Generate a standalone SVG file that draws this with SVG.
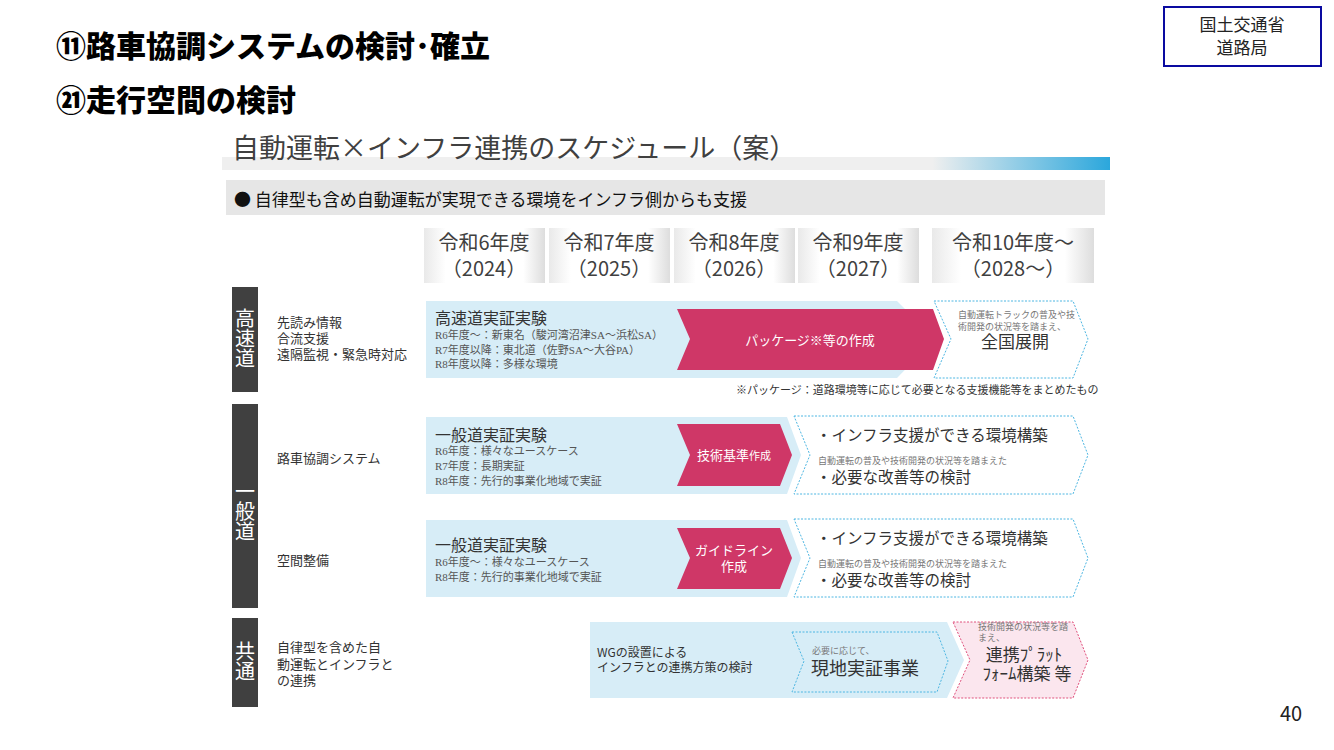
<svg xmlns="http://www.w3.org/2000/svg" width="1334" height="750" viewBox="0 0 1334 750">
<defs>
<linearGradient id="bar" x1="0" y1="0" x2="1" y2="0">
<stop offset="0" stop-color="#efefef"/>
<stop offset="0.8" stop-color="#efefef"/>
<stop offset="1" stop-color="#2ba7dc"/>
</linearGradient>
<linearGradient id="yr" x1="0" y1="0" x2="1" y2="0">
<stop offset="0" stop-color="#e9e9e9"/>
<stop offset="0.18" stop-color="#ffffff"/>
<stop offset="0.82" stop-color="#ffffff"/>
<stop offset="1" stop-color="#dddddd"/>
</linearGradient>
</defs>
<style>
text{font-family:"Noto Sans CJK JP","Noto Sans",sans-serif;}
.title{font-size:30px;font-weight:900;fill:#000;}
.yr{font-size:20px;fill:#404040;text-anchor:middle;}
.cat{fill:#404040;}
.catt{font-size:20px;fill:#fff;writing-mode:vertical-rl;}
.lbl{font-size:13px;fill:#333;}
.blue{fill:#d7edf7;}
.pink{fill:#cf3767;}
.btitle{font-size:16px;fill:#333;}
.sub{font-family:"Liberation Serif","Noto Sans CJK JP",serif;font-size:11px;fill:#555;}
.pt{font-size:13px;fill:#fff;text-anchor:middle;}
.dash{fill:#fff;stroke:#4db6e2;stroke-width:1;stroke-dasharray:2 1.5;}
.dashp{fill:#fbe6ee;stroke:#e0507c;stroke-width:1;stroke-dasharray:2 1.5;}
.big{font-size:15.5px;fill:#333;}
.tiny{font-family:"Liberation Serif","Noto Sans CJK JP",serif;font-size:9px;fill:#777;}
</style>
<rect width="1334" height="750" fill="#fff"/>

<g id="header">
<text class="title" x="56" y="57">⑪路車協調システムの検討･確立</text>
<text class="title" x="56" y="111">㉑走行空間の検討</text>
</g>

<g id="agency">
<rect x="1164" y="7" width="157" height="59" fill="#fff" stroke="#0a0aa0" stroke-width="2"/>
<text x="1242" y="31" font-size="17" fill="#222" text-anchor="middle">国土交通省</text>
<text x="1242" y="54" font-size="17" fill="#222" text-anchor="middle">道路局</text>
</g>

<g id="heading">
<rect x="222" y="157" width="888" height="13" fill="url(#bar)"/>
<text x="232" y="158" font-size="27" fill="#404040">自動運転×インフラ連携のスケジュール（案）</text>
<rect x="226" y="180" width="879" height="35" fill="#e6e6e6"/>
<text x="234" y="206" font-size="17" fill="#111">● 自律型も含め自動運転が実現できる環境をインフラ側からも支援</text>
</g>

<g id="years">
<rect x="424" y="228" width="121" height="55" fill="url(#yr)"/>
<rect x="549" y="228" width="121" height="55" fill="url(#yr)"/>
<rect x="674" y="228" width="121" height="55" fill="url(#yr)"/>
<rect x="798" y="228" width="121" height="55" fill="url(#yr)"/>
<rect x="932" y="228" width="162" height="55" fill="url(#yr)"/>
<text class="yr" x="484" y="250">令和6年度</text><text class="yr" x="484" y="276">（2024）</text>
<text class="yr" x="609" y="250">令和7年度</text><text class="yr" x="609" y="276">（2025）</text>
<text class="yr" x="734" y="250">令和8年度</text><text class="yr" x="734" y="276">（2026）</text>
<text class="yr" x="858" y="250">令和9年度</text><text class="yr" x="858" y="276">（2027）</text>
<text class="yr" x="1013" y="250">令和10年度～</text><text class="yr" x="1013" y="276">（2028～）</text>
</g>

<g id="cat-expressway">
<rect class="cat" x="232" y="287" width="26" height="105"/>
<text class="catt" x="245" y="308">高速道</text>
<text class="lbl" x="277" y="327">先読み情報</text>
<text class="lbl" x="277" y="343">合流支援</text>
<text class="lbl" x="277" y="359">遠隔監視・緊急時対応</text>
</g>

<g id="cat-general">
<rect class="cat" x="232" y="404" width="26" height="204"/>
<text class="catt" x="245" y="481">一般道</text>
<text class="lbl" x="277" y="463">路車協調システム</text>
<text class="lbl" x="277" y="565">空間整備</text>
</g>

<g id="cat-common">
<rect class="cat" x="232" y="618" width="26" height="89"/>
<text class="catt" x="245" y="641">共通</text>
<text class="lbl" x="277" y="652">自律型を含めた自</text>
<text class="lbl" x="277" y="669">動運転とインフラと</text>
<text class="lbl" x="277" y="685">の連携</text>
</g>

<g id="expressway-trial">
<polygon class="blue" points="426,301 897,301 935,339 897,378 426,378"/>
<text class="btitle" x="435" y="324">高速道実証実験</text>
<text class="sub" x="435" y="339">R6年度～：新東名（駿河湾沼津SA～浜松SA）</text>
<text class="sub" x="435" y="354">R7年度以降：東北道（佐野SA～大谷PA）</text>
<text class="sub" x="435" y="368">R8年度以降：多様な環境</text>
</g>
<g id="expressway-package">
<polygon class="pink" points="677,309 933,309 944,339 933,370 677,370 690,339"/>
<text class="pt" x="810" y="345">パッケージ※等の作成</text>
</g>
<g id="expressway-national">
<polygon class="dash" points="934,301 1073,301 1088,339 1073,378 934,378 951,339"/>
<text class="tiny" x="958" y="318">自動運転トラックの普及や技</text>
<text class="tiny" x="958" y="330">術開発の状況等を踏まえ、</text>
<text x="1015" y="348" font-size="17" fill="#333" text-anchor="middle">全国展開</text>
</g>
<text x="736" y="394" font-size="11" fill="#333">※パッケージ：道路環境等に応じて必要となる支援機能等をまとめたもの</text>

<g id="general-trial-1">
<polygon class="blue" points="426,417 787,417 801,455 787,494 426,494"/>
<text class="btitle" x="435" y="441">一般道実証実験</text>
<text class="sub" x="435" y="455">R6年度：様々なユースケース</text>
<text class="sub" x="435" y="470">R7年度：長期実証</text>
<text class="sub" x="435" y="485">R8年度：先行的事業化地域で実証</text>
</g>
<g id="general-standard">
<polygon class="pink" points="677,424 780,424 792,455 780,486 677,486 690,455"/>
<text class="pt" x="734" y="460">技術基準<tspan font-size="11">作成</tspan></text>
</g>
<g id="general-env-1">
<polygon class="dash" points="794,416 1073,416 1088,455 1073,494 794,494 810,455"/>
<text class="big" x="816" y="441">・インフラ支援ができる環境構築</text>
<text class="tiny" x="818" y="464">自動運転の普及や技術開発の状況等を踏まえた</text>
<text class="big" x="816" y="483">・必要な改善等の検討</text>
</g>

<g id="general-trial-2">
<polygon class="blue" points="426,520 787,520 801,558 787,597 426,597"/>
<text class="btitle" x="435" y="551">一般道実証実験</text>
<text class="sub" x="435" y="566">R6年度～：様々なユースケース</text>
<text class="sub" x="435" y="581">R8年度：先行的事業化地域で実証</text>
</g>
<g id="general-guideline">
<polygon class="pink" points="677,528 780,528 792,558 780,589 677,589 690,558"/>
<text class="pt" x="734" y="555" font-size="12">ガイドライン</text>
<text class="pt" x="734" y="571" font-size="11">作成</text>
</g>
<g id="general-env-2">
<polygon class="dash" points="794,519 1073,519 1088,558 1073,597 794,597 810,558"/>
<text class="big" x="816" y="544">・インフラ支援ができる環境構築</text>
<text class="tiny" x="818" y="567">自動運転の普及や技術開発の状況等を踏まえた</text>
<text class="big" x="816" y="586">・必要な改善等の検討</text>
</g>

<g id="common-wg">
<polygon class="blue" points="590,622 947,622 964,660 947,698 590,698"/>
<text x="597" y="657" font-size="12" fill="#333">WGの設置による</text>
<text x="597" y="672" font-size="12" fill="#333">インフラとの連携方策の検討</text>
</g>
<g id="common-field">
<polygon fill="none" stroke="#4db6e2" stroke-width="1" stroke-dasharray="2 1.5" points="792,632 937,632 948,661 937,692 792,692 804,661"/>
<text class="tiny" x="812" y="654">必要に応じて、</text>
<text x="811" y="675" font-size="18" fill="#333">現地実証事業</text>
</g>
<g id="common-platform">
<polygon class="dashp" points="953,622 1073,622 1088,660 1073,698 953,698 970,660"/>
<text class="tiny" x="978" y="630">技術開発の状況等を踏</text>
<text class="tiny" x="978" y="641">まえ、</text>
<text x="1024" y="661" font-size="17" fill="#333" text-anchor="middle">連携ﾌﾟﾗｯﾄ</text>
<text x="1027" y="680" font-size="17" fill="#333" text-anchor="middle">ﾌｫｰﾑ構築 等</text>
</g>

<g id="connectors"></g>

<text x="1291" y="721" font-size="20" fill="#222" text-anchor="middle" font-family="Noto Sans, sans-serif">40</text>
</svg>
